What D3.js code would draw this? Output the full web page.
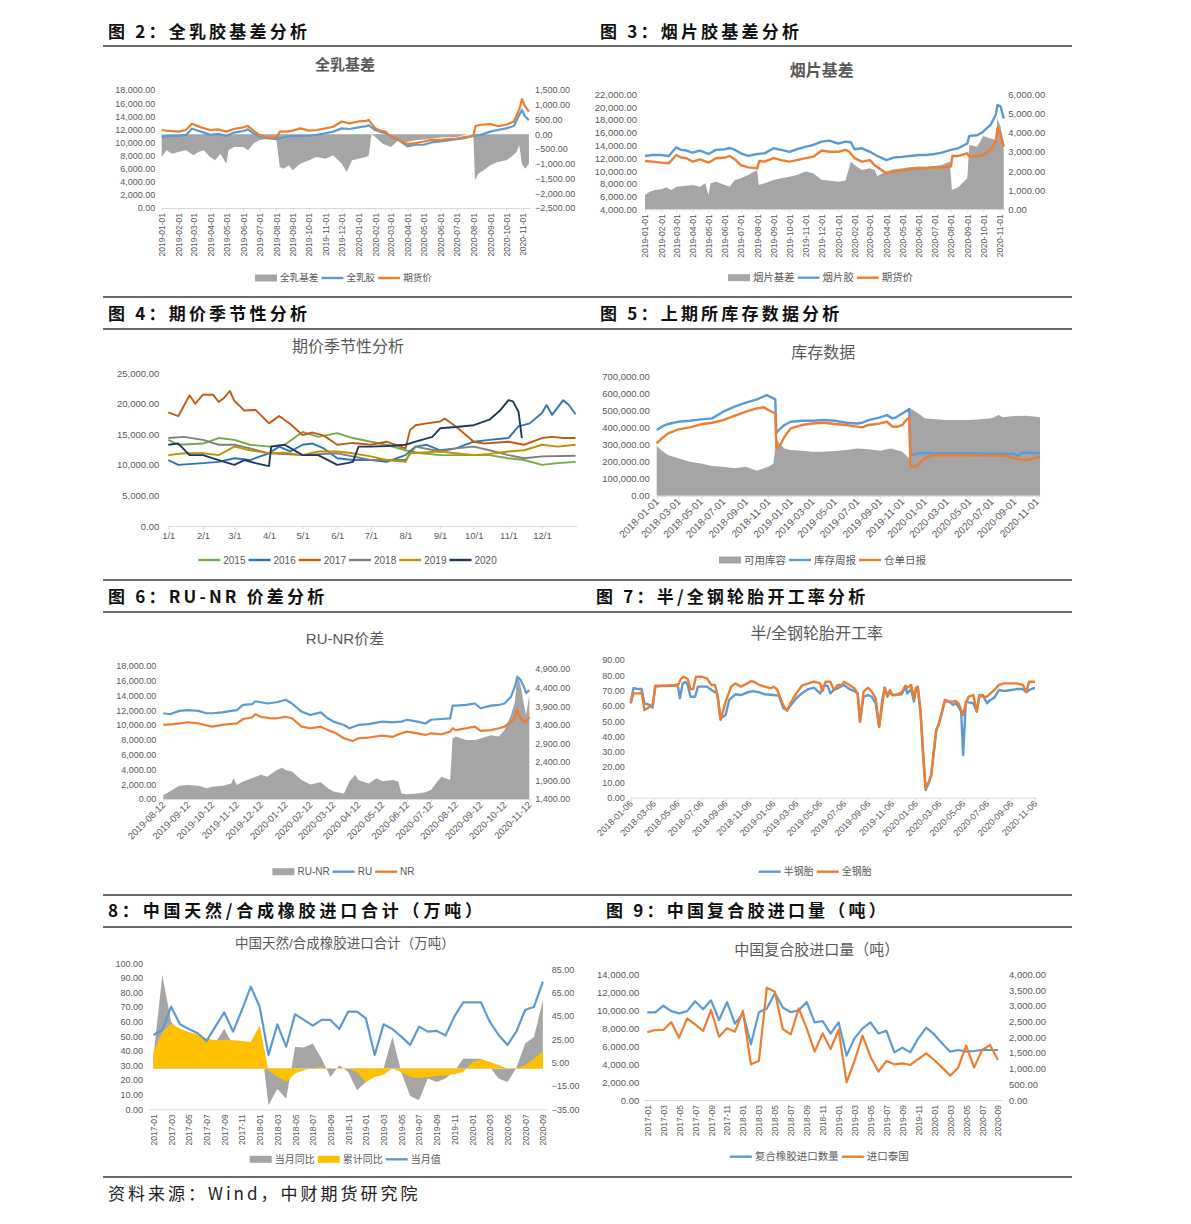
<!DOCTYPE html>
<html><head><meta charset="utf-8">
<script src="https://cdn.jsdelivr.net/npm/d3@7"></script>
<style>body{margin:0;background:#fff;}</style>
</head><body>
<script>
// ---------------- TEXT ----------------
const headerTexts = ['图 2：全乳胶基差分析','图 3：烟片胶基差分析','图 4：期价季节性分析','图 5：上期所库存数据分析','图 6：RU-NR 价差分析','图 7：半/全钢轮胎开工率分析','8：中国天然/合成橡胶进口合计（万吨）','图 9：中国复合胶进口量（吨）'];
const sourceText = '资料来源：Wind，中财期货研究院';
const chartTitles = ['全乳基差','烟片基差','期价季节性分析','库存数据','RU-NR价差','半/全钢轮胎开工率','中国天然/合成橡胶进口合计（万吨）','中国复合胶进口量（吨）'];

// ---------------- PANEL 1: 全乳基差 ----------------
const p1Names = ['全乳基差','全乳胶','期货价'];
const p1LeftTicks = [0,2000,4000,6000,8000,10000,12000,14000,16000,18000];
const p1RightTicks = [-2500,-2000,-1500,-1000,-500,0,500,1000,1500];
const p1XTicks = ['2019-01-01','2019-02-01','2019-03-01','2019-04-01','2019-05-01','2019-06-01','2019-07-01','2019-08-01','2019-09-01','2019-10-01','2019-11-01','2019-12-01','2020-01-01','2020-02-01','2020-03-01','2020-04-01','2020-05-01','2020-06-01','2020-07-01','2020-08-01','2020-09-01','2020-10-01','2020-11-01'];
const p1Spot = [["2019-01-01",10800],["2019-01-15",11000],["2019-02-01",11000],["2019-02-15",11150],["2019-02-26",12100],["2019-03-15",11650],["2019-04-01",11150],["2019-04-15",11300],["2019-05-01",11000],["2019-05-15",11500],["2019-06-01",11750],["2019-06-10",12000],["2019-06-20",11400],["2019-07-01",10900],["2019-07-15",10650],["2019-08-01",10500],["2019-08-10",10650],["2019-08-20",10900],["2019-09-01",11000],["2019-09-15",11000],["2019-10-01",11000],["2019-10-15",11150],["2019-11-01",11400],["2019-11-15",11650],["2019-12-01",12150],["2019-12-15",12050],["2020-01-01",12300],["2020-01-15",12500],["2020-01-20",12600],["2020-02-01",11900],["2020-02-10",11650],["2020-02-20",11400],["2020-03-01",11000],["2020-03-15",10400],["2020-04-01",9400],["2020-04-15",9650],["2020-05-01",9650],["2020-05-15",10000],["2020-06-01",10150],["2020-06-15",10300],["2020-07-01",10500],["2020-07-15",10650],["2020-08-01",11000],["2020-08-15",11150],["2020-09-01",11650],["2020-09-15",11900],["2020-10-01",12150],["2020-10-15",12500],["2020-10-25",14200],["2020-10-30",14950],["2020-11-05",13950],["2020-11-12",13400]];
const p1Fut = [["2019-01-01",11900],["2019-01-15",11750],["2019-02-01",11650],["2019-02-15",11900],["2019-02-26",12850],["2019-03-15",12300],["2019-04-01",11900],["2019-04-15",12000],["2019-05-01",11650],["2019-05-15",12050],["2019-06-01",12300],["2019-06-10",12500],["2019-06-20",11800],["2019-07-01",11150],["2019-07-15",10800],["2019-08-01",10650],["2019-08-08",11650],["2019-08-20",11650],["2019-09-01",11800],["2019-09-15",12150],["2019-10-01",11800],["2019-10-15",11900],["2019-11-01",12150],["2019-11-15",12400],["2019-12-01",13200],["2019-12-15",12900],["2020-01-01",13200],["2020-01-15",13300],["2020-01-20",13400],["2020-02-01",12150],["2020-02-10",11800],["2020-02-20",11650],["2020-03-01",10800],["2020-03-15",10400],["2020-04-01",9750],["2020-04-15",9900],["2020-05-01",10150],["2020-05-15",10400],["2020-06-01",10400],["2020-06-15",10500],["2020-07-01",10600],["2020-07-15",10800],["2020-08-01",11000],["2020-08-05",12500],["2020-08-15",12700],["2020-09-01",12800],["2020-09-15",12500],["2020-10-01",12700],["2020-10-15",13200],["2020-10-25",15000],["2020-10-30",16600],["2020-11-05",15500],["2020-11-12",14700]];
const p1Basis = [["2019-01-01",-770],["2019-01-10",-540],["2019-01-20",-660],["2019-02-01",-600],["2019-02-15",-540],["2019-03-01",-710],["2019-03-10",-600],["2019-03-20",-540],["2019-04-01",-770],["2019-04-10",-880],["2019-04-20",-660],["2019-05-01",-1000],["2019-05-05",-540],["2019-05-15",-430],["2019-06-01",-430],["2019-06-10",-540],["2019-06-20",-320],["2019-07-01",-200],["2019-07-15",-150],["2019-08-01",-110],["2019-08-08",-1110],["2019-08-15",-1170],["2019-08-25",-1050],["2019-09-01",-1220],["2019-09-15",-1000],["2019-10-01",-880],["2019-10-15",-770],["2019-11-01",-830],["2019-11-15",-710],["2019-12-01",-1000],["2019-12-10",-1280],["2019-12-20",-880],["2020-01-01",-830],["2020-01-15",-770],["2020-01-20",-710],["2020-01-25",0],["2020-02-01",-90],["2020-02-15",-320],["2020-03-01",-430],["2020-03-15",-200],["2020-04-01",-260],["2020-04-15",-200],["2020-05-01",-180],["2020-06-01",-110],["2020-07-01",-90],["2020-07-25",20],["2020-08-01",-70],["2020-08-04",-1560],["2020-08-10",-1340],["2020-08-20",-1220],["2020-09-01",-1050],["2020-09-15",-940],["2020-10-01",-880],["2020-10-10",-770],["2020-10-20",-600],["2020-10-25",-370],["2020-10-30",-1000],["2020-11-05",-1170],["2020-11-12",-1000]];

// ---------------- PANEL 2: 烟片基差 ----------------
const p2Names = ['烟片基差','烟片胶','期货价'];
const p2LeftTicks = [4000,6000,8000,10000,12000,14000,16000,18000,20000,22000];
const p2RightTicks = [0,1000,2000,3000,4000,5000,6000];
const p2XTicks = p1XTicks;
const p2Spot = [["2019-01-01",12350],["2019-01-15",12500],["2019-02-01",12500],["2019-02-15",12350],["2019-03-01",13700],["2019-03-10",13300],["2019-03-20",13200],["2019-04-01",12870],["2019-04-15",13200],["2019-05-01",12660],["2019-05-15",13300],["2019-06-01",13400],["2019-06-10",13600],["2019-06-20",13300],["2019-07-01",12760],["2019-07-15",12350],["2019-08-01",12660],["2019-08-15",12760],["2019-09-01",13550],["2019-09-15",13300],["2019-10-01",13000],["2019-10-15",13400],["2019-11-01",13800],["2019-11-15",14070],["2019-12-01",14600],["2019-12-15",14750],["2020-01-01",14300],["2020-01-15",14600],["2020-01-25",14500],["2020-02-01",13400],["2020-02-15",13550],["2020-03-01",13000],["2020-03-15",12350],["2020-04-01",11700],["2020-04-15",12100],["2020-05-01",12200],["2020-05-15",12350],["2020-06-01",12500],["2020-06-15",12500],["2020-07-01",12660],["2020-07-15",12870],["2020-08-01",13300],["2020-08-15",13550],["2020-09-01",14300],["2020-09-05",15500],["2020-09-20",15600],["2020-10-01",16150],["2020-10-15",17200],["2020-10-25",18800],["2020-10-28",20300],["2020-11-03",20100],["2020-11-09",18200]];
const p2Fut = [["2019-01-01",11560],["2019-01-15",11460],["2019-02-01",11300],["2019-02-15",11200],["2019-03-01",12500],["2019-03-10",12100],["2019-03-20",12000],["2019-04-01",11460],["2019-04-15",11800],["2019-05-01",11300],["2019-05-15",12000],["2019-06-01",12100],["2019-06-10",12350],["2019-06-20",11800],["2019-07-01",10900],["2019-07-15",10570],["2019-08-01",10400],["2019-08-05",11560],["2019-08-15",11460],["2019-09-01",12000],["2019-09-15",11700],["2019-10-01",11460],["2019-10-15",11700],["2019-11-01",12000],["2019-11-15",12240],["2019-12-01",13200],["2019-12-15",13000],["2020-01-01",13000],["2020-01-15",13300],["2020-01-22",13000],["2020-02-01",12000],["2020-02-15",11460],["2020-03-01",11700],["2020-03-10",10900],["2020-04-01",9630],["2020-04-15",9900],["2020-05-01",10050],["2020-05-15",10260],["2020-06-01",10400],["2020-06-15",10400],["2020-07-01",10570],["2020-07-15",10570],["2020-08-01",10680],["2020-08-04",12350],["2020-08-15",12350],["2020-09-01",12760],["2020-09-05",12240],["2020-09-20",12350],["2020-10-01",12500],["2020-10-15",13300],["2020-10-25",14600],["2020-10-28",16700],["2020-11-03",15900],["2020-11-09",13800]];
const p2Basis = [["2019-01-01",750],["2019-01-10",920],["2019-01-20",1010],["2019-02-01",1040],["2019-02-10",1150],["2019-02-20",1010],["2019-03-01",1180],["2019-03-15",1220],["2019-04-01",1270],["2019-04-15",1180],["2019-04-25",1360],["2019-05-01",750],["2019-05-05",1360],["2019-05-15",1440],["2019-06-01",1270],["2019-06-10",1180],["2019-06-20",1530],["2019-07-01",1620],["2019-07-15",1790],["2019-08-01",2050],["2019-08-04",1270],["2019-08-15",1360],["2019-09-01",1530],["2019-09-15",1620],["2019-10-01",1700],["2019-10-15",1790],["2019-11-01",1970],["2019-11-15",1880],["2019-12-01",1530],["2019-12-15",1500],["2020-01-01",1440],["2020-01-15",1500],["2020-01-25",2490],["2020-02-01",2310],["2020-02-15",2050],["2020-03-01",2140],["2020-03-10",2050],["2020-03-15",1740],["2020-04-01",1970],["2020-04-15",2090],["2020-05-01",2140],["2020-05-15",2190],["2020-06-01",2230],["2020-06-15",2230],["2020-07-01",2260],["2020-07-15",2310],["2020-07-30",2490],["2020-08-03",1010],["2020-08-15",1150],["2020-09-01",1620],["2020-09-05",3360],["2020-09-20",3270],["2020-10-01",3830],["2020-10-15",3700],["2020-10-25",3620],["2020-10-28",4750],["2020-11-03",4310],["2020-11-09",3100]];

// ---------------- PANEL 3: 期价季节性 ----------------
const p3Years = ['2015','2016','2017','2018','2019','2020'];
const p3Ticks = [0,5000,10000,15000,20000,25000];
const p3XLabels = ['1/1','2/1','3/1','4/1','5/1','6/1','7/1','8/1','9/1','10/1','11/1','12/1'];
const p3_2015 = [["01-01",14100],["01-10",13300],["02-01",13500],["02-15",14400],["03-01",14100],["03-15",13300],["04-01",13000],["04-15",13300],["05-01",15400],["05-15",14600],["06-01",15200],["06-15",14400],["07-01",13800],["07-15",13300],["08-01",12400],["08-15",11900],["09-01",11600],["09-15",11600],["10-01",11600],["10-15",11600],["11-01",11100],["11-15",10800],["12-01",10000],["12-15",10300],["12-31",10500]];
const p3_2016 = [["01-01",10800],["01-10",10000],["02-01",10300],["02-15",10500],["03-01",11100],["03-15",10800],["04-01",11900],["04-10",13000],["04-20",12200],["05-01",13300],["05-10",13500],["05-20",12700],["06-01",11100],["06-15",10800],["07-01",10800],["07-15",10500],["08-01",11600],["08-10",13000],["08-20",13300],["09-01",12400],["09-15",12700],["10-01",13800],["10-15",14100],["11-01",14400],["11-10",16300],["11-20",16800],["12-01",18500],["12-05",19800],["12-10",18200],["12-20",20600],["12-25",19800],["12-31",18300]];
const p3_2017 = [["01-01",18600],["01-10",18000],["01-20",21400],["01-25",20000],["02-01",21500],["02-10",21500],["02-15",20300],["02-20",21000],["02-25",22100],["03-01",20500],["03-10",18900],["03-20",19000],["04-01",16800],["04-10",18000],["04-20",16700],["05-01",14900],["05-10",15300],["05-20",14800],["06-01",13300],["06-15",13600],["07-01",13300],["07-15",13800],["08-01",12700],["08-05",15700],["08-10",16500],["08-20",16800],["09-01",17100],["09-05",17600],["09-15",16300],["10-01",13800],["10-10",13500],["11-01",13800],["11-15",13300],["12-01",14400],["12-10",14600],["12-20",14400],["12-31",14400]];
const p3_2018 = [["01-01",14400],["01-15",14600],["02-01",14100],["02-15",13300],["03-01",13300],["03-15",12700],["04-01",11900],["05-01",11600],["06-01",11900],["07-01",10800],["07-15",10800],["08-01",10800],["08-10",13000],["09-01",12200],["09-15",12700],["10-01",13000],["10-15",12400],["11-01",11600],["11-15",11100],["12-01",11400],["12-31",11500]];
const p3_2019 = [["01-01",11600],["01-15",11900],["02-01",11900],["02-15",11600],["03-01",13000],["03-15",12400],["04-01",11900],["04-15",12000],["05-01",11600],["05-15",12200],["06-01",12200],["06-15",11900],["07-01",11400],["07-15",10800],["08-01",10500],["08-05",11900],["09-01",12200],["09-15",11900],["10-01",11600],["10-15",11800],["11-01",12200],["11-15",12400],["12-01",13300],["12-15",13000],["12-31",13300]];
const p3_2020 = [["01-01",13300],["01-10",13500],["01-20",11600],["02-01",11600],["02-15",10800],["03-01",10000],["03-10",10800],["03-20",10300],["04-01",9800],["04-03",13000],["04-15",13300],["05-01",11600],["05-15",11600],["06-01",10000],["06-10",10300],["06-15",10500],["06-20",13000],["07-01",13000],["07-15",13100],["08-01",13300],["08-10",13800],["08-25",14600],["09-01",16000],["09-15",16200],["10-01",16500],["10-15",17400],["10-25",19000],["11-01",20600],["11-05",20400],["11-10",18700],["11-13",14400]];

// ---------------- PANEL 4: 库存数据 ----------------
const p4Names = ['可用库容','库存周报','仓单日报'];
const p4Ticks = [0,100000,200000,300000,400000,500000,600000,700000];
const p4XTicks = ['2018-01-01','2018-03-01','2018-05-01','2018-07-01','2018-09-01','2018-11-01','2019-01-01','2019-03-01','2019-05-01','2019-07-01','2019-09-01','2019-11-01','2020-01-01','2020-03-01','2020-05-01','2020-07-01','2020-09-01','2020-11-01'];
const p4Weekly = [["2018-01-01",386000],["2018-01-15",406000],["2018-02-01",422000],["2018-03-01",435000],["2018-04-01",441000],["2018-05-01",449000],["2018-06-01",455000],["2018-07-01",494000],["2018-08-01",524000],["2018-09-01",547000],["2018-10-01",567000],["2018-10-28",592000],["2018-11-20",567000],["2018-11-23",367000],["2018-12-01",390000],["2018-12-15",416000],["2019-01-01",435000],["2019-02-01",441000],["2019-03-01",441000],["2019-04-01",445000],["2019-05-01",441000],["2019-06-01",429000],["2019-07-01",425000],["2019-07-15",429000],["2019-08-01",445000],["2019-09-01",461000],["2019-09-20",474000],["2019-10-05",455000],["2019-10-15",461000],["2019-11-01",484000],["2019-11-20",510000],["2019-11-23",239000],["2019-12-15",249000],["2020-01-01",253000],["2020-02-01",249000],["2020-04-01",250000],["2020-06-01",248000],["2020-08-01",247000],["2020-09-01",245000],["2020-09-10",233000],["2020-09-20",249000],["2020-10-01",253000],["2020-11-01",249000],["2020-11-10",253000]];
const p4Daily = [["2018-01-01",308000],["2018-01-15",337000],["2018-02-01",367000],["2018-03-01",390000],["2018-04-01",402000],["2018-05-01",420000],["2018-06-01",429000],["2018-07-01",445000],["2018-08-01",469000],["2018-09-01",494000],["2018-10-01",514000],["2018-10-20",520000],["2018-11-01",504000],["2018-11-20",484000],["2018-11-23",278000],["2018-12-01",288000],["2018-12-15",347000],["2019-01-01",396000],["2019-02-01",416000],["2019-03-01",425000],["2019-04-01",429000],["2019-05-01",422000],["2019-06-01",416000],["2019-07-01",406000],["2019-07-15",402000],["2019-08-01",416000],["2019-09-01",425000],["2019-09-20",435000],["2019-10-05",406000],["2019-10-20",406000],["2019-11-01",416000],["2019-11-10",441000],["2019-11-20",461000],["2019-11-23",171000],["2019-12-08",171000],["2020-01-01",220000],["2020-01-15",233000],["2020-02-01",239000],["2020-04-01",238000],["2020-06-01",236000],["2020-08-01",235000],["2020-08-15",233000],["2020-09-01",220000],["2020-09-15",214000],["2020-10-01",210000],["2020-10-15",214000],["2020-11-01",225000],["2020-11-10",229000]];
const p4Capacity = [["2018-01-01",292000],["2018-01-15",265000],["2018-02-01",239000],["2018-03-01",220000],["2018-04-01",200000],["2018-05-01",190000],["2018-06-01",175000],["2018-07-01",171000],["2018-08-01",161000],["2018-09-01",171000],["2018-10-01",147000],["2018-11-01",171000],["2018-11-15",190000],["2018-11-23",337000],["2018-12-01",308000],["2018-12-15",278000],["2019-01-01",269000],["2019-02-01",265000],["2019-03-01",259000],["2019-04-01",259000],["2019-05-01",263000],["2019-06-01",269000],["2019-07-01",278000],["2019-08-01",273000],["2019-09-01",265000],["2019-10-01",278000],["2019-11-01",259000],["2019-11-20",220000],["2019-11-23",514000],["2019-12-15",484000],["2020-01-01",455000],["2020-02-01",449000],["2020-03-01",445000],["2020-04-01",445000],["2020-05-01",445000],["2020-06-01",449000],["2020-07-01",455000],["2020-07-20",474000],["2020-08-01",461000],["2020-09-01",469000],["2020-10-01",471000],["2020-11-01",465000],["2020-11-10",461000]];

// ---------------- PANEL 5: RU-NR价差 ----------------
const p5Names = ['RU-NR','RU','NR'];
const p5LeftTicks = [0,2000,4000,6000,8000,10000,12000,14000,16000,18000];
const p5RightTicks = [1400,1900,2400,2900,3400,3900,4400,4900];
const p5XTicks = ['2019-08-12','2019-09-12','2019-10-12','2019-11-12','2019-12-12','2020-01-12','2020-02-12','2020-03-12','2020-04-12','2020-05-12','2020-06-12','2020-07-12','2020-08-12','2020-09-12','2020-10-12','2020-11-12'];
const p5RU = [["2019-08-12",11580],["2019-08-20",11440],["2019-09-01",11900],["2019-09-12",12000],["2019-09-25",11900],["2019-10-05",11580],["2019-10-12",11580],["2019-10-25",11700],["2019-11-05",11900],["2019-11-12",12000],["2019-11-20",12700],["2019-12-01",12800],["2019-12-05",13200],["2019-12-12",13060],["2019-12-20",12900],["2020-01-01",13060],["2020-01-12",13400],["2020-01-20",12900],["2020-02-01",11800],["2020-02-12",11350],["2020-02-25",11700],["2020-03-05",10900],["2020-03-12",10450],["2020-03-25",10000],["2020-04-01",9550],["2020-04-12",10000],["2020-04-25",10100],["2020-05-12",10450],["2020-05-25",10360],["2020-06-05",10450],["2020-06-12",10700],["2020-06-25",10450],["2020-07-05",10200],["2020-07-12",10700],["2020-07-25",10800],["2020-08-05",10900],["2020-08-08",12600],["2020-08-12",12600],["2020-08-25",12700],["2020-09-05",12900],["2020-09-12",12250],["2020-09-25",12600],["2020-10-05",12700],["2020-10-12",12900],["2020-10-20",13800],["2020-10-25",15200],["2020-10-28",16500],["2020-11-01",16100],["2020-11-05",15200],["2020-11-08",14300],["2020-11-12",14700]];
const p5NR = [["2019-08-12",10000],["2019-08-25",10100],["2019-09-12",10360],["2019-09-25",10200],["2019-10-12",9770],["2019-10-25",10000],["2019-11-12",10200],["2019-11-20",10800],["2019-12-01",11000],["2019-12-05",11440],["2019-12-12",11100],["2019-12-25",10900],["2020-01-01",10900],["2020-01-12",11100],["2020-01-20",10900],["2020-02-01",9770],["2020-02-12",9550],["2020-02-25",9770],["2020-03-05",9300],["2020-03-15",8870],["2020-03-25",8200],["2020-04-05",7840],["2020-04-12",8200],["2020-04-25",8300],["2020-05-12",8560],["2020-05-25",8400],["2020-06-05",8870],["2020-06-12",9100],["2020-06-25",8870],["2020-07-05",8650],["2020-07-12",8870],["2020-07-25",8740],["2020-08-05",9100],["2020-08-08",9550],["2020-08-12",9300],["2020-08-25",9550],["2020-09-05",9770],["2020-09-12",9200],["2020-09-25",9300],["2020-10-05",9550],["2020-10-12",9770],["2020-10-20",10450],["2020-10-25",10900],["2020-10-28",12000],["2020-11-01",10900],["2020-11-05",10450],["2020-11-08",10360],["2020-11-12",11100]];
const p5Spread = [["2019-08-12",1510],["2019-08-20",1600],["2019-09-01",1760],["2019-09-12",1780],["2019-09-25",1760],["2019-10-05",1690],["2019-10-12",1730],["2019-10-25",1760],["2019-11-05",1820],["2019-11-08",1960],["2019-11-12",1780],["2019-11-20",1870],["2019-12-01",1960],["2019-12-12",2050],["2019-12-20",2000],["2020-01-01",2180],["2020-01-08",2240],["2020-01-12",2180],["2020-01-20",2140],["2020-02-01",1910],["2020-02-12",1790],["2020-02-25",1850],["2020-03-05",1690],["2020-03-12",1600],["2020-03-25",1550],["2020-04-01",1870],["2020-04-08",2050],["2020-04-12",1910],["2020-04-25",1820],["2020-05-05",1960],["2020-05-12",1880],["2020-05-25",1910],["2020-06-01",1870],["2020-06-05",1550],["2020-06-12",1530],["2020-06-25",1550],["2020-07-05",1580],["2020-07-12",1640],["2020-07-20",1870],["2020-07-25",2000],["2020-08-05",1910],["2020-08-08",3030],["2020-08-12",3080],["2020-08-25",2990],["2020-09-05",2990],["2020-09-12",3030],["2020-09-25",3120],["2020-10-05",3080],["2020-10-12",3260],["2020-10-20",3660],["2020-10-25",4020],["2020-10-28",4760],["2020-11-01",4470],["2020-11-05",3980],["2020-11-08",3660],["2020-11-12",4200]];

// ---------------- PANEL 6: 半/全钢轮胎开工率 ----------------
const p6Names = ['半钢胎','全钢胎'];
const p6Ticks = [0,10,20,30,40,50,60,70,80,90];
const p6XTicks = ['2018-01-06','2018-03-06','2018-05-06','2018-07-06','2018-09-06','2018-11-06','2019-01-06','2019-03-06','2019-05-06','2019-07-06','2019-09-06','2019-11-06','2020-01-06','2020-03-06','2020-05-06','2020-07-06','2020-09-06','2020-11-06'];
const p6Semi = [["2018-01-06",61.7],["2018-01-13",71.5],["2018-01-27",71.0],["2018-02-03",71.0],["2018-02-10",61.7],["2018-02-24",60.6],["2018-03-03",58.8],["2018-03-10",72.6],["2018-03-27",73.0],["2018-04-13",73.0],["2018-04-27",73.2],["2018-05-06",74.1],["2018-05-12",65.0],["2018-05-19",74.7],["2018-05-26",75.8],["2018-06-01",73.7],["2018-06-08",66.0],["2018-06-20",66.0],["2018-06-27",72.6],["2018-07-06",72.6],["2018-07-20",72.6],["2018-08-01",70.4],["2018-08-15",68.2],["2018-08-24",51.9],["2018-09-06",54.0],["2018-09-15",63.9],["2018-10-01",67.6],["2018-10-15",67.1],["2018-11-01",68.9],["2018-11-15",69.7],["2018-12-01",68.9],["2018-12-15",67.6],["2019-01-06",67.1],["2019-01-20",66.7],["2019-02-01",58.4],["2019-02-10",57.3],["2019-02-20",60.6],["2019-03-06",65.0],["2019-03-20",68.2],["2019-04-06",71.0],["2019-04-20",71.9],["2019-05-06",68.2],["2019-05-15",73.2],["2019-05-25",73.2],["2019-06-01",68.2],["2019-06-10",70.4],["2019-06-20",71.5],["2019-07-06",73.7],["2019-07-20",71.0],["2019-08-01",69.7],["2019-08-10",68.2],["2019-08-16",49.7],["2019-08-25",66.0],["2019-09-06",67.1],["2019-09-15",66.0],["2019-09-25",61.7],["2019-10-04",46.4],["2019-10-12",63.9],["2019-10-18",71.9],["2019-10-25",66.0],["2019-11-01",69.7],["2019-11-06",67.1],["2019-11-15",67.1],["2019-12-01",67.6],["2019-12-10",72.6],["2019-12-15",68.2],["2019-12-25",71.0],["2020-01-01",62.8],["2020-01-06",70.4],["2020-01-11",72.0],["2020-01-18",55.0],["2020-01-25",25.0],["2020-01-31",5.0],["2020-02-07",9.0],["2020-02-14",14.8],["2020-02-27",43.1],["2020-03-06",49.7],["2020-03-20",62.8],["2020-04-01",62.8],["2020-04-10",60.6],["2020-04-17",61.7],["2020-04-24",59.5],["2020-05-01",56.3],["2020-05-06",27.9],["2020-05-13",62.8],["2020-05-20",62.3],["2020-06-01",61.7],["2020-06-10",56.3],["2020-06-17",67.1],["2020-06-25",67.1],["2020-07-06",61.7],["2020-07-15",63.9],["2020-07-25",65.4],["2020-08-06",70.4],["2020-08-20",69.7],["2020-09-06",70.4],["2020-09-20",71.0],["2020-10-06",71.0],["2020-10-15",68.9],["2020-10-22",70.4],["2020-11-01",71.5],["2020-11-06",71.5]];
const p6Full = [["2018-01-06",61.7],["2018-01-13",68.2],["2018-01-27",68.2],["2018-02-03",68.9],["2018-02-10",57.3],["2018-02-24",59.5],["2018-03-03",60.6],["2018-03-10",73.2],["2018-04-06",73.2],["2018-05-01",73.7],["2018-05-06",72.6],["2018-05-13",76.9],["2018-05-20",79.1],["2018-06-01",77.6],["2018-06-08",71.0],["2018-06-15",71.0],["2018-06-22",79.1],["2018-07-06",79.1],["2018-07-20",78.0],["2018-08-01",73.7],["2018-08-10",73.7],["2018-08-17",66.0],["2018-08-24",50.8],["2018-09-06",62.8],["2018-09-20",72.6],["2018-10-01",74.7],["2018-10-15",72.6],["2018-11-01",74.7],["2018-11-10",76.3],["2018-11-20",75.4],["2018-12-01",73.7],["2018-12-15",72.6],["2019-01-01",71.5],["2019-01-06",72.6],["2019-01-15",71.0],["2019-02-01",60.2],["2019-02-10",56.7],["2019-02-20",62.3],["2019-03-06",68.2],["2019-03-20",73.2],["2019-04-06",74.7],["2019-04-20",75.8],["2019-05-06",74.7],["2019-05-12",69.7],["2019-05-20",75.8],["2019-06-01",75.8],["2019-06-10",70.4],["2019-06-20",73.7],["2019-07-01",73.7],["2019-07-06",75.8],["2019-07-20",73.7],["2019-08-01",71.5],["2019-08-10",68.2],["2019-08-16",49.7],["2019-08-25",69.3],["2019-09-06",71.9],["2019-09-15",69.3],["2019-09-25",65.0],["2019-10-04",46.4],["2019-10-12",60.6],["2019-10-18",71.9],["2019-10-25",67.1],["2019-11-01",70.4],["2019-11-06",67.1],["2019-11-15",67.1],["2019-12-01",68.9],["2019-12-10",73.2],["2019-12-15",71.9],["2019-12-25",73.7],["2020-01-01",65.0],["2020-01-06",71.9],["2020-01-11",72.6],["2020-01-18",57.0],["2020-01-25",28.0],["2020-01-31",6.1],["2020-02-07",9.4],["2020-02-14",13.7],["2020-02-27",44.2],["2020-03-06",48.6],["2020-03-20",63.9],["2020-04-01",62.8],["2020-04-10",62.8],["2020-04-17",63.2],["2020-04-24",61.7],["2020-05-01",57.3],["2020-05-06",54.0],["2020-05-13",61.7],["2020-05-20",66.0],["2020-06-01",67.1],["2020-06-10",56.3],["2020-06-17",67.1],["2020-06-25",66.0],["2020-07-06",66.0],["2020-07-15",68.2],["2020-07-25",70.4],["2020-08-06",73.7],["2020-08-20",74.7],["2020-09-06",74.7],["2020-09-20",74.7],["2020-10-06",73.7],["2020-10-15",69.3],["2020-10-22",75.8],["2020-11-01",75.8],["2020-11-06",75.8]];

// ---------------- PANEL 7 & 8: monthly ----------------
const months = ['2017-01','2017-02','2017-03','2017-04','2017-05','2017-06','2017-07','2017-08','2017-09','2017-10','2017-11','2017-12','2018-01','2018-02','2018-03','2018-04','2018-05','2018-06','2018-07','2018-08','2018-09','2018-10','2018-11','2018-12','2019-01','2019-02','2019-03','2019-04','2019-05','2019-06','2019-07','2019-08','2019-09','2019-10','2019-11','2019-12','2020-01','2020-02','2020-03','2020-04','2020-05','2020-06','2020-07','2020-08','2020-09'];
const monthTicks = ['2017-01','2017-03','2017-05','2017-07','2017-09','2017-11','2018-01','2018-03','2018-05','2018-07','2018-09','2018-11','2019-01','2019-03','2019-05','2019-07','2019-09','2019-11','2020-01','2020-03','2020-05','2020-07','2020-09'];
const p7Names = ['当月同比','累计同比','当月值'];
const p7LeftTicks = [0,10,20,30,40,50,60,70,80,90,100];
const p7RightTicks = [-35,-15,5,25,45,65,85];
const p7Monthly = [50.9,54.3,70.3,58.2,55.0,52.1,46.8,56.6,66.4,53.2,68.0,84.0,70.3,37.2,58.2,42.9,65.1,61.2,57.3,61.2,61.2,55.0,66.9,66.9,62.3,37.2,58.2,55.0,49.8,44.1,56.6,53.2,53.7,50.5,63.5,73.3,73.3,73.3,60.0,50.9,44.1,53.2,68.0,70.3,87.4];
const p7MonthYoY = [10,80,40,30,26,24,20,22,34,20,18,15,33,-31.6,-17.3,-25.9,18.4,17.9,21.3,8.4,-7.3,2.7,-3,-18.7,-11.6,-6,0,27,-3,-23.6,-27.3,-8.7,-11.6,-8.7,-2.4,8.4,8.4,8.4,1.3,-8.7,-11.6,0.4,21.3,27,58.4];
const p7CumYoY = [14.1,31.3,38.4,34.1,31.3,29.0,25.6,24.1,24.7,24.1,23.6,22.7,37.0,-2,-7,-11.6,-4.4,-1.6,0.4,1.3,-0.7,0.7,0,-3,-11.6,-7.3,-5.3,0,-3,-7.3,-8.1,-7.3,-6.4,-5.9,-5,-3,5,8,5.6,3,0,-0.5,3,8,15];
const p8Names = ['复合橡胶进口数量','进口泰国'];
const p8LeftTicks = [0,2000,4000,6000,8000,10000,12000,14000];
const p8RightTicks = [0,500,1000,1500,2000,2500,3000,3500,4000];
const p8Total = [9770,9770,10500,9900,9650,9900,11000,10100,11100,8900,10900,8500,9650,6200,9770,10200,11900,10300,9770,10000,10900,8650,8800,7400,8650,4940,6870,7980,8650,7400,7700,5300,5830,5300,6870,8060,7300,6300,5380,5570,5380,5460,5570,5570,5570];
const p8Thai = [2154,2228,2228,2472,1984,2600,2408,2196,2865,2016,2281,2175,2833,1135,1241,3576,3448,2260,2090,2918,2281,1538,2122,1623,2228,562,1241,2048,1379,902,1241,1135,1167,1114,1305,1485,1273,1029,775,1029,1729,1029,1592,1751,1273];

// ---------------- DRAWING ----------------
const FONT = '"Liberation Sans","Noto Sans CJK SC",sans-serif';
const CJK = '"Noto Sans CJK SC",sans-serif';
const AX = '#595959', AXL = '#d9d9d9';
const COL = {gray:'#a5a5a5', blue:'#5b9bd5', orange:'#ed7d31', yellow:'#ffc000'};
const yearCols = ['#70ad47','#2e75b6','#c55a11','#7f7f7f','#bf9000','#203864'];
const parse = d3.timeParse('%Y-%m-%d');
const fmt2 = d3.format(',.2f');
const svg = d3.select('body').append('svg').attr('width',1191).attr('height',1224);

// headers
const hdr = [[108,38],[600,38],[108,320],[600,320],[108,603],[596,603],[108,917],[606,917]];
headerTexts.forEach((t,i)=>{
  svg.append('text').attr('x',hdr[i][0]).attr('y',hdr[i][1]).attr('font-family',CJK)
    .attr('font-weight','bold').attr('font-size',17).attr('letter-spacing',i===6?3.8:3.2).attr('fill','#111').text(t);
});
[46,297,329,580,612,895,927,1177].forEach(y=>{
  svg.append('line').attr('x1',103).attr('x2',1072).attr('y1',y).attr('y2',y).attr('stroke','#3a3a3a').attr('stroke-width',1.5);
});
svg.append('text').attr('x',108).attr('y',1200).attr('font-family',CJK).attr('font-size',17)
  .attr('letter-spacing',3).attr('fill','#222').text(sourceText);

function title(i,cx,cy,fs,w){
  svg.append('text').attr('x',cx).attr('y',cy).attr('dy','0.35em').attr('text-anchor','middle')
    .attr('font-family',FONT).attr('font-size',fs).attr('font-weight',w||'normal').attr('fill',AX).text(chartTitles[i]);
}
function leftAxis(scale,ticks,x,pad,fs){
  const g=svg.append('g').attr('transform',`translate(${x},0)`)
    .call(d3.axisLeft(scale).tickValues(ticks).tickFormat(fmt2).tickSize(0).tickPadding(pad));
  g.select('.domain').remove();
  g.selectAll('text').attr('fill',AX).attr('font-size',fs).attr('font-family',FONT);
}
function rightAxis(scale,ticks,x,pad,fs){
  const g=svg.append('g').attr('transform',`translate(${x},0)`)
    .call(d3.axisRight(scale).tickValues(ticks).tickFormat(fmt2).tickSize(0).tickPadding(pad));
  g.select('.domain').remove();
  g.selectAll('text').attr('fill',AX).attr('font-size',fs).attr('font-family',FONT);
}
function bottomAxis(scale,ticks,y,fmt,rot,fs,tick){
  const g=svg.append('g').attr('transform',`translate(0,${y})`)
    .call(d3.axisBottom(scale).tickValues(ticks).tickFormat(fmt).tickSize(tick).tickSizeOuter(0));
  g.select('.domain').attr('stroke',AXL);
  g.selectAll('.tick line').attr('stroke',AXL);
  const t=g.selectAll('text').attr('fill',AX).attr('font-size',fs).attr('font-family',FONT);
  if(rot===-90) t.attr('transform','rotate(-90)').attr('text-anchor','end').attr('x',-5).attr('y',0).attr('dy','0.35em');
  if(rot===-45) t.attr('transform','rotate(-45)').attr('text-anchor','end').attr('x',-3).attr('y',3).attr('dy','0.35em');
}
function legend(items,cx,cy,fs){
  const g=svg.append('g');
  let x=0;
  items.forEach(it=>{
    if(it.type==='rect') g.append('rect').attr('x',x).attr('y',cy-3.5).attr('width',22).attr('height',7).attr('fill',it.color);
    else g.append('line').attr('x1',x).attr('x2',x+22).attr('y1',cy).attr('y2',cy).attr('stroke',it.color).attr('stroke-width',2.4);
    x+=25;
    const t=g.append('text').attr('x',x).attr('y',cy).attr('dy','0.35em').attr('font-size',fs).attr('font-family',FONT).attr('fill',AX).text(it.label);
    x+=t.node().getComputedTextLength()+3;
  });
  g.attr('transform',`translate(${cx-x/2},0)`);
}
function drawLine(data,xf,yf,color,w){
  svg.append('path').datum(data).attr('fill','none').attr('stroke',color).attr('stroke-width',w)
    .attr('stroke-linejoin','round').attr('d',d3.line().x(xf).y(yf));
}
function drawArea(data,xf,y0,yf,color){
  svg.append('path').datum(data).attr('fill',color)
    .attr('d',d3.area().x(xf).y0(y0).y1(yf));
}
const tf = d3.timeFormat('%Y-%m-%d');

// ===== Panel 1 =====
{
  const x=d3.scaleTime().domain([parse('2019-01-01'),parse('2020-11-14')]).range([161.7,530]);
  const yl=d3.scaleLinear().domain([0,18000]).range([208,90]);
  const yr=d3.scaleLinear().domain([-2500,1500]).range([208,90]);
  title(0,345,65,15,'bold');
  drawArea(p1Basis,d=>x(parse(d[0])),yr(0),d=>yr(d[1]),COL.gray);
  bottomAxis(x,p1XTicks.map(parse),208,tf,-90,8.5,3);
  drawLine(p1Spot,d=>x(parse(d[0])),d=>yl(d[1]),COL.blue,2.2);
  drawLine(p1Fut,d=>x(parse(d[0])),d=>yl(d[1]),COL.orange,2.2);
  leftAxis(yl,p1LeftTicks,161.7,6.5,9);
  rightAxis(yr,p1RightTicks,530,5,9);
  legend([{type:'rect',color:COL.gray,label:p1Names[0]},{type:'line',color:COL.blue,label:p1Names[1]},{type:'line',color:COL.orange,label:p1Names[2]}],345,278,9.6);
}
// ===== Panel 2 =====
{
  const x=d3.scaleTime().domain([parse('2019-01-01'),parse('2020-11-10')]).range([645,1004.3]);
  const yl=d3.scaleLinear().domain([4000,22000]).range([209.3,94.3]);
  const yr=d3.scaleLinear().domain([0,6000]).range([209.3,94.3]);
  title(1,821.7,70.7,16,'bold');
  drawArea(p2Basis,d=>x(parse(d[0])),yr(0),d=>yr(d[1]),COL.gray);
  bottomAxis(x,p2XTicks.map(parse),209.3,tf,-90,8.5,3);
  drawLine(p2Spot,d=>x(parse(d[0])),d=>yl(d[1]),COL.blue,2.4);
  drawLine(p2Fut,d=>x(parse(d[0])),d=>yl(d[1]),COL.orange,2.4);
  leftAxis(yl,p2LeftTicks,645,8,9.5);
  rightAxis(yr,p2RightTicks,1004.3,4,9.5);
  legend([{type:'rect',color:COL.gray,label:p2Names[0]},{type:'line',color:COL.blue,label:p2Names[1]},{type:'line',color:COL.orange,label:p2Names[2]}],822,277.7,10.4);
}
// ===== Panel 3 =====
{
  const base=parse('2019-01-01');
  const doy=md=>d3.timeDay.count(base,parse('2019-'+md));
  const x=d3.scaleLinear().domain([0,365]).range([168.3,576.7]);
  const y=d3.scaleLinear().domain([0,25000]).range([526,373.3]);
  title(2,348,346.7,16,'normal');
  const tickDays=p3XLabels.map(l=>{const p=l.split('/');return doy(String(p[0]).padStart(2,'0')+'-'+String(p[1]).padStart(2,'0'));});
  bottomAxis(x,tickDays,526,(d,i)=>p3XLabels[i],0,9.5,3);
  [p3_2015,p3_2016,p3_2017,p3_2018,p3_2019,p3_2020].forEach((s,i)=>{
    drawLine(s,d=>x(doy(d[0])),d=>y(d[1]),yearCols[i],1.9);
  });
  leftAxis(y,p3Ticks,168.3,9,9.5);
  legend(p3Years.map((yy,i)=>({type:'line',color:yearCols[i],label:yy})),349,560,10);
}
// ===== Panel 4 =====
{
  const x=d3.scaleTime().domain([parse('2018-01-01'),parse('2020-11-10')]).range([656.7,1040]);
  const y=d3.scaleLinear().domain([0,700000]).range([495.7,376.7]);
  title(3,823.3,352.7,16,'normal');
  drawArea(p4Capacity,d=>x(parse(d[0])),y(0),d=>y(d[1]),COL.gray);
  bottomAxis(x,p4XTicks.map(parse),495.7,tf,-45,10,3);
  drawLine(p4Weekly,d=>x(parse(d[0])),d=>y(d[1]),COL.blue,2.4);
  drawLine(p4Daily,d=>x(parse(d[0])),d=>y(d[1]),COL.orange,2.4);
  leftAxis(y,p4Ticks,656.7,7,9.5);
  legend([{type:'rect',color:COL.gray,label:p4Names[0]},{type:'line',color:COL.blue,label:p4Names[1]},{type:'line',color:COL.orange,label:p4Names[2]}],824,560,10.5);
}
// ===== Panel 5 =====
{
  const x=d3.scaleTime().domain([parse('2019-08-12'),parse('2020-11-12')]).range([163.3,529.3]);
  const yl=d3.scaleLinear().domain([0,18000]).range([799,665.7]);
  const yr=d3.scaleLinear().domain([1400,4990]).range([799,665.7]);
  title(4,345,639,15,'normal');
  drawArea(p5Spread,d=>x(parse(d[0])),yr(1400),d=>yr(d[1]),COL.gray);
  bottomAxis(x,p5XTicks.map(parse),799,tf,-45,9.5,3);
  drawLine(p5RU,d=>x(parse(d[0])),d=>yl(d[1]),COL.blue,2.2);
  drawLine(p5NR,d=>x(parse(d[0])),d=>yl(d[1]),COL.orange,2.2);
  leftAxis(yl,p5LeftTicks,163.3,7,9);
  rightAxis(yr,p5RightTicks,529.3,6,9);
  legend([{type:'rect',color:COL.gray,label:p5Names[0]},{type:'line',color:COL.blue,label:p5Names[1]},{type:'line',color:COL.orange,label:p5Names[2]}],345,871.7,10);
}
// ===== Panel 6 =====
{
  const x=d3.scaleTime().domain([parse('2018-01-06'),parse('2020-11-06')]).range([630.7,1035]);
  const y=d3.scaleLinear().domain([0,90]).range([797.7,660]);
  title(5,816.7,633.3,16,'normal');
  bottomAxis(x,p6XTicks.map(parse),797.7,tf,-45,9,3);
  drawLine(p6Semi,d=>x(parse(d[0])),d=>y(d[1]),COL.blue,2.4);
  drawLine(p6Full,d=>x(parse(d[0])),d=>y(d[1]),COL.orange,2.4);
  leftAxis(y,p6Ticks,630.7,6,9);
  legend([{type:'line',color:COL.blue,label:p6Names[0]},{type:'line',color:COL.orange,label:p6Names[1]}],816.7,871.7,10);
}
// ===== Panel 7 =====
{
  const x=d3.scalePoint().domain(months).range([149,547.3]).padding(0.5);
  const yl=d3.scaleLinear().domain([0,100]).range([1109.3,963.3]);
  const yr=d3.scaleLinear().domain([-35,90.1]).range([1109.3,963.3]);
  title(6,345,943.3,13.5,'normal');
  drawArea(p7MonthYoY.map((v,i)=>[months[i],v]),d=>x(d[0]),yr(0),d=>yr(d[1]),COL.gray);
  drawArea(p7CumYoY.map((v,i)=>[months[i],v]),d=>x(d[0]),yr(0),d=>yr(d[1]),COL.yellow);
  bottomAxis(x,monthTicks,1109.3,d=>d,-90,8.5,0);
  drawLine(p7Monthly.map((v,i)=>[months[i],v]),d=>x(d[0]),d=>yl(d[1]),COL.blue,2.2);
  leftAxis(yl,p7LeftTicks,149,6,9);
  rightAxis(yr,p7RightTicks,547.3,4.5,9);
  legend([{type:'rect',color:COL.gray,label:p7Names[0]},{type:'rect',color:COL.yellow,label:p7Names[1]},{type:'line',color:COL.blue,label:p7Names[2]}],346.7,1159.3,10);
}
// ===== Panel 8 =====
{
  const x=d3.scalePoint().domain(months).range([643.3,1002]).padding(0.5);
  const yl=d3.scaleLinear().domain([0,14000]).range([1100,974.3]);
  const yr=d3.scaleLinear().domain([0,4000]).range([1100,974.3]);
  title(7,816.7,950,15,'normal');
  bottomAxis(x,monthTicks,1100,d=>d,-90,8.5,0);
  drawLine(p8Total.map((v,i)=>[months[i],v]),d=>x(d[0]),d=>yl(d[1]),COL.blue,2.2);
  drawLine(p8Thai.map((v,i)=>[months[i],v]),d=>x(d[0]),d=>yr(d[1]),COL.orange,2.2);
  leftAxis(yl,p8LeftTicks,643.3,4,9.5);
  rightAxis(yr,p8RightTicks,1002,7,9.5);
  legend([{type:'line',color:COL.blue,label:p8Names[0]},{type:'line',color:COL.orange,label:p8Names[1]}],820.8,1156.7,10.5);
}
</script>
</body></html>
